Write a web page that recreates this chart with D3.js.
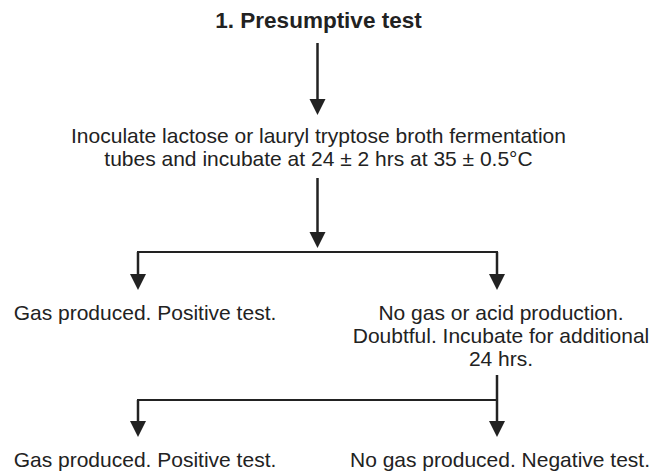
<!DOCTYPE html>
<html>
<head>
<meta charset="utf-8">
<script src="https://cdn.jsdelivr.net/npm/d3@7"></script>
<style>
  body { margin: 0; background: #fff; }
  text { font-family: "Liberation Sans", Arial, Helvetica, sans-serif; fill: #222; }
</style>
</head>
<body>
<div id="chart"></div>
<script>
// flowchart content
const nodeIds = ['title', 'inoculate', 'gas1', 'nogas1', 'gas2', 'nogas2']
const nodeLines = [
    ['1. Presumptive test'],
    ['Inoculate lactose or lauryl tryptose broth fermentation', 'tubes and incubate at 24 \u00b1 2 hrs at 35 \u00b1 0.5\u00b0C'],
    ['Gas produced. Positive test.'],
    ['No gas or acid production.', 'Doubtful. Incubate for additional', '24 hrs.'],
    ['Gas produced. Positive test.'],
    ['No gas produced. Negative test.']
]
// parent -> child
const links = [
    ['title', 'inoculate'],
    ['inoculate', 'gas1'],
    ['inoculate', 'nogas1'],
    ['nogas1', 'gas2'],
    ['nogas1', 'nogas2']
]

const render = () => {
    const width = 653,
        height = 475;

    d3.select('#chart').selectAll('svg').remove();

    const svg = d3.select('#chart').append('svg')
        .attr('width', width)
        .attr('height', height);

    // columns: left branch, trunk, right branch
    const x = d3.scalePoint()
        .domain(['left', 'mid', 'right'])
        .range([138, 497]);
    const col = { title: 'mid', inoculate: 'mid', gas1: 'left', nogas1: 'right', gas2: 'left', nogas2: 'right' }
    // text centre offset from its column line
    const textShift = { title: 1, inoculate: 1, gas1: 7, nogas1: 4, gas2: 7, nogas2: 3 }

    // first baseline of each node
    const baseline = { title: 28, inoculate: 143, gas1: 320, nogas1: 320, gas2: 467, nogas2: 467 }
    const lineH = 23

    const nodes = nodeIds.map((id, i) => ({ id, lines: nodeLines[i] }))

    const g = svg.selectAll('.node')
        .data(nodes)
        .enter().append('text')
        .attr('class', 'node')
        .attr('text-anchor', 'middle')
        .attr('x', d => x(col[d.id]) + textShift[d.id])
        .attr('y', d => baseline[d.id])
        .style('font-size', d => d.id === 'title' ? '22.5px' : '21px')
        .style('font-weight', d => d.id === 'title' ? 'bold' : 'normal');

    g.selectAll('tspan')
        .data(d => d.lines.map((l, i) => ({ l, i, d })))
        .enter().append('tspan')
        .attr('x', t => x(col[t.d.id]) + textShift[t.d.id])
        .attr('dy', t => t.i === 0 ? 0 : lineH)
        .text(t => t.l);

    // connector geometry
    const stemTop = { title: 43, inoculate: 178, nogas1: 375 }
    const barY = { inoculate: 252, nogas1: 400 }
    const tipY = { inoculate: 115, gas1: 290, nogas1: 290, gas2: 437, nogas2: 437 }
    const head = 16, headW = 8;
    const stroke = '#222';

    const arrowHead = (cx, ty) => `M${cx - headW},${ty - head}L${cx + headW},${ty - head}L${cx},${ty}Z`

    d3.group(links, l => l[0]).forEach((kids, parent) => {
        const px = x(col[parent]);
        if (kids.length === 1) {
            const child = kids[0][1];
            svg.append('line')
                .attr('x1', px).attr('x2', px)
                .attr('y1', stemTop[parent]).attr('y2', tipY[child] - head + 2)
                .style('stroke', stroke).style('stroke-width', 2.5);
            svg.append('path').attr('d', arrowHead(px, tipY[child])).style('fill', stroke);
            return;
        }
        const by = barY[parent];
        const xs = kids.map(k => x(col[k[1]]));
        // the trunk into the first split ends in an arrow, the second one does not
        const trunkArrow = parent === 'inoculate';
        svg.append('line')
            .attr('x1', px).attr('x2', px)
            .attr('y1', stemTop[parent]).attr('y2', trunkArrow ? by - 4 - head + 2 : by)
            .style('stroke', stroke).style('stroke-width', 2.5);
        if (trunkArrow) svg.append('path').attr('d', arrowHead(px, by - 4)).style('fill', stroke);
        svg.append('line')
            .attr('x1', d3.min(xs)).attr('x2', d3.max(xs))
            .attr('y1', by).attr('y2', by)
            .style('stroke', stroke).style('stroke-width', 2)
            .style('stroke-linecap', 'square');
        kids.forEach(k => {
            const cx = x(col[k[1]]);
            svg.append('line')
                .attr('x1', cx).attr('x2', cx)
                .attr('y1', by).attr('y2', tipY[k[1]] - head + 2)
                .style('stroke', stroke).style('stroke-width', 2.5);
            svg.append('path').attr('d', arrowHead(cx, tipY[k[1]])).style('fill', stroke);
        });
    });
}

render()
</script>
</body>
</html>
